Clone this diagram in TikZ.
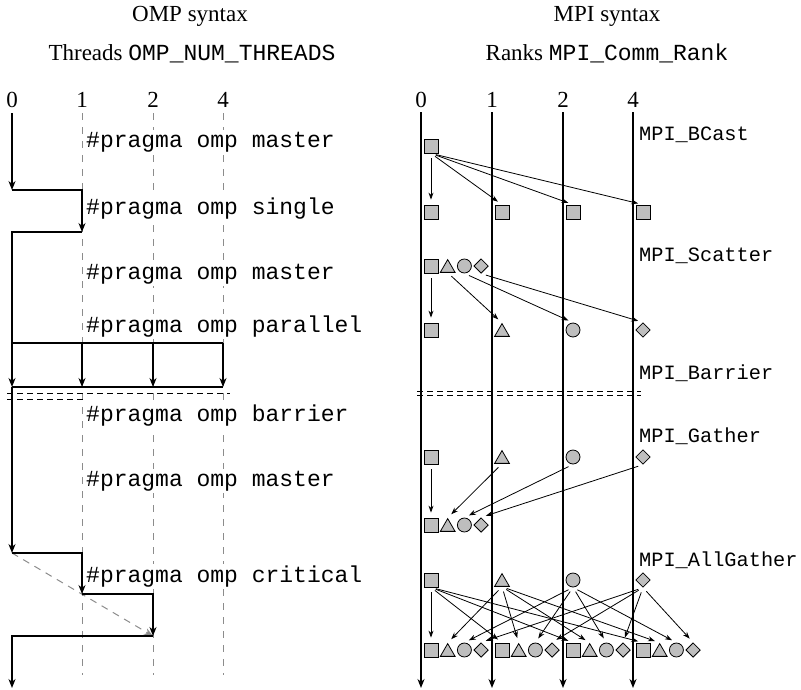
\documentclass[tikz,border=0pt]{standalone}
\usepackage{fontspec}
\setmainfont{Liberation Serif}
\setmonofont{Liberation Mono}
\usetikzlibrary{arrows.meta,shapes.geometric}
\definecolor{shapegray}{HTML}{BEBEBE}
\definecolor{guide}{HTML}{8C8C8C}
\begin{document}
\begin{tikzpicture}[x=1pt,y=-1pt,
  txt/.style={font=\fontsize{23}{27}\selectfont, inner sep=0pt, anchor=base},
  code/.style={font=\fontsize{23}{27}\selectfont\ttfamily, fill=white, inner sep=2pt, anchor=base west},
  mpilabel/.style={font=\fontsize{20.3}{24}\selectfont\ttfamily, inner sep=1pt, anchor=base west},
  flow/.style={line width=1.4pt, -{Stealth[length=9pt,width=7pt]}},
  flowline/.style={line width=1.4pt},
  guideline/.style={guide, line width=1pt, dash pattern=on 7pt off 7pt},
  barrierline/.style={line width=0.9pt, dash pattern=on 6pt off 4pt},
  crit/.style={guide, line width=1pt, dash pattern=on 7pt off 6pt, -{Stealth[length=9pt,width=7pt]}},
  msg/.style={line width=0.8pt, -{Stealth[length=7pt,width=5pt]}, shorten <=5pt, shorten >=5pt},
  dat/.style={draw, fill=shapegray, line width=0.8pt, inner sep=0pt},
  sq/.style={dat, rectangle, minimum size=14pt},
  tri/.style={dat, regular polygon, regular polygon sides=3, minimum size=17pt, yshift=-2.1pt},
  circ/.style={dat, circle, minimum size=14pt},
  dia/.style={dat, diamond, minimum size=14.5pt},
]
\path[use as bounding box] (0,0) rectangle (801,689);

% ---------------- OMP ----------------
\node[txt] (omphead) at (190,21) {OMP syntax};
\node[txt] (thrhead) at (192,60) {Threads \texttt{OMP\_NUM\_THREADS}};
\node[txt] (n0) at (12,107) {0};
\node[txt] (n1) at (82,107) {1};
\node[txt] (n2) at (153,107) {2};
\node[txt] (n4) at (223,107) {4};

\coordinate (g1t) at (82,113);  \coordinate (g1b) at (82,675);
\coordinate (g2t) at (153,113); \coordinate (g2b) at (153,675);
\coordinate (g3t) at (223,113); \coordinate (g3b) at (223,675);
\draw[guideline] (g1t) -- (g1b);
\draw[guideline] (g2t) -- (g2b);
\draw[guideline] (g3t) -- (g3b);

\coordinate (bl1a) at (7,393); \coordinate (bl1b) at (230,393);
\coordinate (bl2a) at (7,399); \coordinate (bl2b) at (83,399);
\draw[barrierline] (bl1a) -- (bl1b);
\draw[barrierline] (bl2a) -- (bl2b);

\node[code] (c1) at (84,147.5) {\#pragma omp master};
\node[code] (c2) at (84,214.5) {\#pragma omp single};
\node[code] (c3) at (84,279.5) {\#pragma omp master};
\node[code] (c4) at (84,332.5) {\#pragma omp parallel};
\node[code] (c5) at (84,421.5) {\#pragma omp barrier};
\node[code] (c6) at (84,486.5) {\#pragma omp master};
\node[code] (c7) at (84,582.5) {\#pragma omp critical};

\coordinate (a0) at (12,113);
\coordinate (a1) at (12,190);
\coordinate (a2) at (82,190);
\coordinate (a3) at (82,232);
\coordinate (a4) at (12,232);
\coordinate (a5) at (12,387);
\coordinate (f0) at (12,343);
\coordinate (f1) at (82,343);
\coordinate (f2) at (153,343);
\coordinate (f3) at (223,343);
\coordinate (j1) at (82,387);
\coordinate (j2) at (153,387);
\coordinate (j3) at (223,387);
\coordinate (b1) at (12,553);
\coordinate (b2) at (82,553);
\coordinate (b3) at (82,594);
\coordinate (b4) at (153,594);
\coordinate (b5) at (153,636);
\coordinate (b6) at (12,636);
\coordinate (b7) at (12,688);

\draw[crit] (b1) -- (b5);
\draw[flow] (a0) -- (a1);
\draw[flow] (a1) -- (a2) -- (a3);
\draw[flow] (a3) -- (a4) -- (a5);
\draw[flowline] (f0) -- (f3);
\draw[flow] (f1) -- (j1);
\draw[flow] (f2) -- (j2);
\draw[flow] (f3) -- (j3);
\draw[flowline] (a5) -- (j3);
\draw[flow] (a5) -- (b1);
\draw[flow] (b1) -- (b2) -- (b3);
\draw[flow] (b3) -- (b4) -- (b5);
\draw[flow] (b5) -- (b6) -- (b7);

% ---------------- MPI ----------------
\node[txt] (mpihead) at (607,21) {MPI syntax};
\node[txt] (rankhead) at (607,60) {Ranks \texttt{MPI\_Comm\_Rank}};
\node[txt] (m0) at (421,107) {0};
\node[txt] (m1) at (492,107) {1};
\node[txt] (m2) at (563,107) {2};
\node[txt] (m4) at (633,107) {4};

\foreach \x [count=\i from 0] in {421,492,563,633} {
  \coordinate (r\i t) at (\x,112);
  \coordinate (r\i b) at (\x,688);
  \draw[flow] (r\i t) -- (r\i b);
}

\coordinate (mb1a) at (417,391); \coordinate (mb1b) at (641,391);
\coordinate (mb2a) at (417,395); \coordinate (mb2b) at (641,395);
\draw[barrierline] (mb1a) -- (mb1b);
\draw[barrierline] (mb2a) -- (mb2b);

\node[mpilabel] (lb) at (638,140) {MPI\_BCast};
\node[mpilabel] (ls) at (638,261) {MPI\_Scatter};
\node[mpilabel] (lr) at (638,379) {MPI\_Barrier};
\node[mpilabel] (lg) at (638,442) {MPI\_Gather};
\node[mpilabel] (la) at (638,566) {MPI\_AllGather};

% BCast
\node[sq] (bs) at (431,146) {};
\node[sq] (bt0) at (431,212) {};
\node[sq] (bt1) at (502,212) {};
\node[sq] (bt2) at (573,212) {};
\node[sq] (bt3) at (643,212) {};
\foreach \i in {0,...,3} \draw[msg] (bs.south) -- (bt\i.north);

% Scatter
\node[sq]   (ss0) at (431,266) {};
\node[tri]  (ss1) at (447.7,266) {};
\node[circ] (ss2) at (464.4,266) {};
\node[dia]  (ss3) at (481.1,266) {};
\node[sq]   (st0) at (431,330) {};
\node[tri]  (st1) at (502,330) {};
\node[circ] (st2) at (573,330) {};
\node[dia]  (st3) at (643,330) {};
\foreach \i in {0,...,3} \draw[msg] (ss\i.south) -- (st\i.north);

% Gather
\node[sq]   (gs0) at (431,457) {};
\node[tri]  (gs1) at (502,457) {};
\node[circ] (gs2) at (573,457) {};
\node[dia]  (gs3) at (643,457) {};
\node[sq]   (gt0) at (431,525) {};
\node[tri]  (gt1) at (447.7,525) {};
\node[circ] (gt2) at (464.4,525) {};
\node[dia]  (gt3) at (481.1,525) {};
\foreach \i in {0,...,3} \draw[msg] (gs\i.south) -- (gt\i.north);

% AllGather
\node[sq]   (as0) at (431,580) {};
\node[tri]  (as1) at (502,580) {};
\node[circ] (as2) at (573,580) {};
\node[dia]  (as3) at (643,580) {};
\foreach \x [count=\j from 0] in {421,492,563,633} {
  \node[sq]   (at\j-0) at (\x+10,650) {};
  \node[tri]  (at\j-1) at (\x+26.7,650) {};
  \node[circ] (at\j-2) at (\x+43.4,650) {};
  \node[dia]  (at\j-3) at (\x+60.1,650) {};
}
\foreach \j in {0,...,3} {
  \foreach \k in {0,...,3} {
    \draw[msg] (as\k.south) -- (at\j-\k.north);
  }
}
\end{tikzpicture}
\end{document}
